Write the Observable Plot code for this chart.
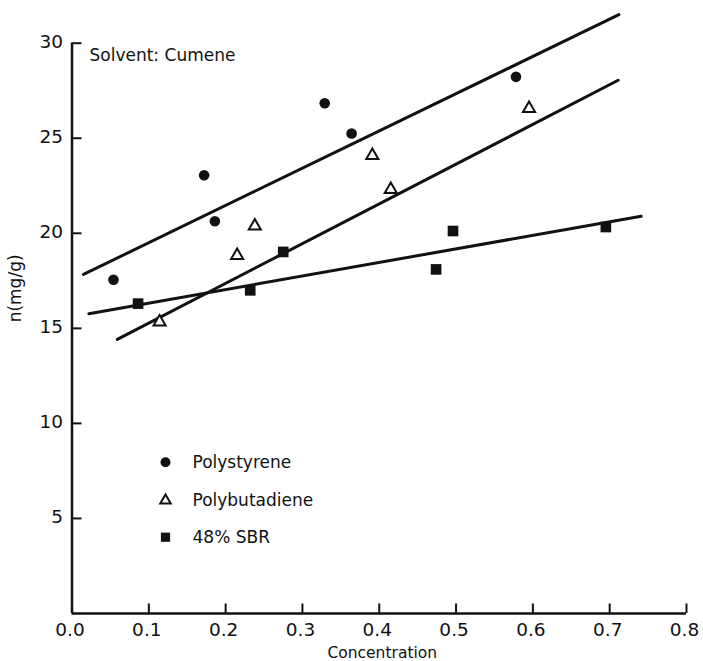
<!DOCTYPE html>
<html><head><meta charset="utf-8">
<script src="https://cdn.jsdelivr.net/npm/d3@7"></script>
<script src="https://cdn.jsdelivr.net/npm/@observablehq/plot@0.6"></script>
<style>
body{margin:0;background:#fff}
#chart svg{font-family:"DejaVu Sans",sans-serif;overflow:visible}
</style>
</head><body><div id="chart"></div>
<script>
// Polystyrene (filled circles)
const psX = [0.054, 0.172, 0.186, 0.329, 0.364, 0.578];
const psY = [17.56, 23.05, 20.63, 26.84, 25.25, 28.23];
// Polybutadiene (open triangles)
const pbX = [0.114, 0.215, 0.238, 0.391, 0.415, 0.595];
const pbY = [15.33, 18.83, 20.38, 24.09, 22.30, 26.56];
// 48% SBR (filled squares)
const sbrX = [0.086, 0.232, 0.275, 0.474, 0.496, 0.695];
const sbrY = [16.30, 17.00, 19.02, 18.10, 20.12, 20.33];
// hand-drawn fit lines (endpoints)
const psLineX = [0.015, 0.712];
const psLineY = [17.84, 31.5];
const pbLineX = [0.059, 0.711];
const pbLineY = [14.42, 28.05];
const sbrLineX = [0.022, 0.741];
const sbrLineY = [15.77, 20.9];
// axes
const xTicks = [0, 0.1, 0.2, 0.3, 0.4, 0.5, 0.6, 0.7, 0.8];
const xTickLabels = ["0.0","0.1","0.2","0.3","0.4","0.5","0.6","0.7","0.8"];
const yTicks = [5, 10, 15, 20, 25, 30];
const yTickLabels = ["5","10","15","20","25","30"];
const seriesNames = ["Polystyrene", "Polybutadiene", "48% SBR"];
const seriesSymbols = ["circle", "triangle", "square"];

const pts = (xs, ys) => xs.map((x, i) => ({x, y: ys[i]}));
const ink = "#111";
const legendDy = [419, 457.3, 494];
const legendR = [5, 3.9, 5.2];

const chart = Plot.plot({
  width: 703,
  height: 661,
  marginLeft: 71.5,
  marginRight: 17,
  marginTop: 42.7,
  marginBottom: 48,
  x: {domain: [0, 0.8], axis: null},
  y: {domain: [0, 30], axis: null},
  marks: [
    // axis lines
    Plot.ruleX([0], {y1: 0, y2: 30, stroke: ink, strokeWidth: 2.5}),
    Plot.ruleY([0], {x1: 0, x2: 0.8, stroke: ink, strokeWidth: 2.5}),
    // inward ticks
    Plot.ruleY(yTicks, {y: d => d, x1: 0, x2: 0.013, stroke: ink, strokeWidth: 2}),
    Plot.ruleX(xTicks.slice(1), {x: d => d, y1: 0, y2: 0.5, stroke: ink, strokeWidth: 2}),
    // tick labels
    Plot.text(yTicks, {x: 0, y: d => d, text: (d, i) => yTickLabels[i], textAnchor: "end", dx: -9, dy: -1, fontSize: 18.5, fill: ink}),
    Plot.text(xTicks, {x: d => d, y: 0, text: (d, i) => xTickLabels[i], dy: 17, dx: -2, fontSize: 18.5, fill: ink}),
    // axis titles
    Plot.text(["Concentration"], {frameAnchor: "bottom", dx: 3, dy: 44, fontSize: 15.5, fill: ink}),
    Plot.text(["n(mg/g)"], {frameAnchor: "left", rotate: -90, dx: -56.5, dy: -6, fontSize: 17, fill: ink}),
    // fit lines
    Plot.line(pts(psLineX, psLineY), {x: "x", y: "y", stroke: ink, strokeWidth: 3}),
    Plot.line(pts(pbLineX, pbLineY), {x: "x", y: "y", stroke: ink, strokeWidth: 3}),
    Plot.line(pts(sbrLineX, sbrLineY), {x: "x", y: "y", stroke: ink, strokeWidth: 3}),
    // data points
    Plot.dot(pts(psX, psY), {x: "x", y: "y", symbol: "circle", r: 5.3, fill: ink}),
    Plot.dot(pts(pbX, pbY), {x: "x", y: "y", symbol: "triangle", r: 4.5, fill: "white", stroke: ink, strokeWidth: 2}),
    Plot.dot(pts(sbrX, sbrY), {x: "x", y: "y", symbol: "square", r: 6, fill: ink}),
    // annotation
    Plot.text(["Solvent: Cumene"], {frameAnchor: "top-left", dx: 17.5, dy: 12.5, textAnchor: "start", lineAnchor: "middle", fontSize: 17, fill: ink}),
    // legend
    ...seriesNames.map((name, i) => Plot.dot([name], {
      frameAnchor: "top-left", dx: 93.5, dy: legendDy[i],
      symbol: seriesSymbols[i], r: legendR[i],
      fill: i === 1 ? "white" : ink, stroke: i === 1 ? ink : "none", strokeWidth: 2
    })),
    ...seriesNames.map((name, i) => Plot.text([name], {
      frameAnchor: "top-left", dx: 120.5, dy: legendDy[i], textAnchor: "start", lineAnchor: "middle",
      text: d => d, fontSize: 17, fill: ink
    }))
  ]
});
document.getElementById("chart").appendChild(chart);
</script>
</body></html>
